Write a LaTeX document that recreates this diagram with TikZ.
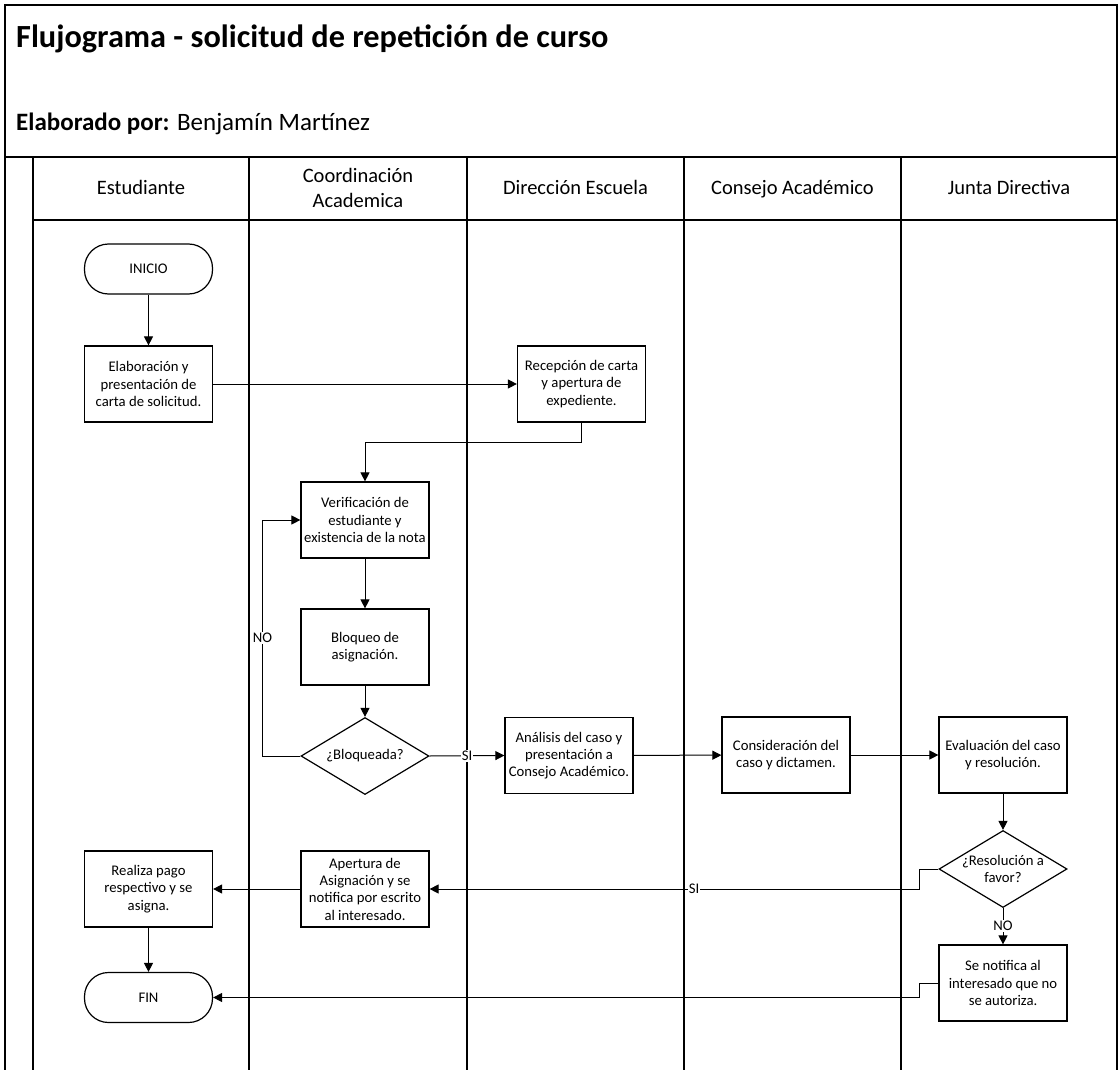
\documentclass[tikz,border=0pt]{standalone}
\usepackage{fontspec}
\setmainfont{Carlito}
\usetikzlibrary{arrows.meta,shapes.geometric}
\begin{document}
\begin{tikzpicture}[x=1pt,y=-1pt,
  txt/.style={font=\fontsize{14.7}{17.3}\selectfont},
  box/.style={draw, line width=1.2pt, minimum width=128pt, minimum height=76pt, align=center, inner sep=1pt, txt},
  term/.style={draw, line width=1.2pt, rounded corners=24pt, minimum width=128pt, minimum height=50pt, txt},
  dec/.style={draw, diamond, line width=1.2pt, minimum width=128pt, minimum height=77pt, inner sep=0pt},
  arr/.style={line width=1pt, -{Triangle[length=9pt,width=9pt]}},
  lane/.style={line width=1.6pt},
  lbl/.style={fill=white, inner sep=1pt, txt},
  hdr/.style={align=center, font=\fontsize{20.5}{25}\selectfont},
  hdrone/.style={hdr, text height=15pt, text depth=5pt}
]
\fill[white] (0,0) rectangle (1120,1070);
\useasboundingbox (0,0) rectangle (1120,1070);

% frame
\draw[line width=1.4pt] (5,1070) -- (5,5) -- (1117,5) -- (1117,1070);
\draw[line width=1.4pt] (5,157) -- (1117,157);
\draw[lane] (33,157) -- (33,1070);
\draw[lane] (33,220) -- (1117,220);
\foreach \x in {249,467,684,901} \draw[lane] (\x,157) -- (\x,1070);

% title
\node[anchor=base west, inner sep=0pt, font=\fontsize{32.3}{38}\selectfont\bfseries] (title) at (16,48) {Flujograma - solicitud de repetición de curso};
\node[anchor=base west, inner sep=0pt, font=\fontsize{25}{30}\selectfont] (author) at (16,131) {\textbf{Elaborado por:} Benjamín Martínez};

% lane headers
\node[hdrone] (h1) at (141,189) {Estudiante};
\node[hdr] (h2) at (358,188) {Coordinación\\Academica};
\node[hdrone] (h3) at (575.5,189) {Dirección Escuela};
\node[hdrone] (h4) at (792.5,189) {Consejo Académico};
\node[hdrone] (h5) at (1009,189) {Junta Directiva};

% nodes
\node[term] (ini) at (148.5,269) {INICIO};
\node[box] (elab) at (148.5,384) {Elaboración y\\presentación de\\carta de solicitud.};
\node[box] (recep) at (581.5,384) {Recepción de carta\\y apertura de\\expediente.};
\node[box] (ver) at (365,520) {Verificación de\\estudiante y\\existencia de la nota};
\node[box] (bloq) at (365,647) {Bloqueo de\\asignación.};
\node[dec] (dec1) at (365,756) {};
\node[txt] (dec1t) at (dec1) {¿Bloqueada?};
\node[box] (anal) at (569,755.5) {Análisis del caso y\\presentación a\\Consejo Académico.};
\node[box] (cons) at (786,755) {Consideración del\\caso y dictamen.};
\node[box] (eval) at (1003,755) {Evaluación del caso\\y resolución.};
\node[dec] (dec2) at (1003,869) {};
\node[txt, align=center] (dec2t) at (dec2) {¿Resolución a\\favor?};
\node[box] (notif) at (1003,983) {Se notifica al\\interesado que no\\se autoriza.};
\node[box] (apert) at (365,889) {Apertura de\\Asignación y se\\notifica por escrito\\al interesado.};
\node[box] (real) at (148.5,889) {Realiza pago\\respectivo y se\\asigna.};
\node[term] (fin) at (148.5,997.5) {FIN};

% connectors
\draw[arr] (ini) -- (elab);
\draw[arr] (elab) -- (recep);
\draw[arr] (recep.south) -- ++(0,20) -| (ver.north);
\draw[arr] (ver) -- (bloq);
\draw[arr] (bloq) -- (dec1.north);
\draw[arr] (dec1.west) -- ++(-38,0) |- node[lbl,pos=0.25]{NO} (ver.west);
\draw[arr] (dec1.east) -- node[lbl]{SI} (anal.west);
\draw[arr] (anal) -- (cons);
\draw[arr] (cons) -- (eval);
\draw[arr] (eval) -- (dec2.north);
\draw[arr] (dec2.west) -- ++(-19,0) |- node[lbl,pos=0.73]{SI} (apert.east);
\draw[arr] (dec2.south) -- node[lbl]{NO} (notif.north);
\draw[arr] (notif.west) -- ++(-19,0) |- (fin.east);
\draw[arr] (apert) -- (real);
\draw[arr] (real) -- (fin);
\end{tikzpicture}
\end{document}
